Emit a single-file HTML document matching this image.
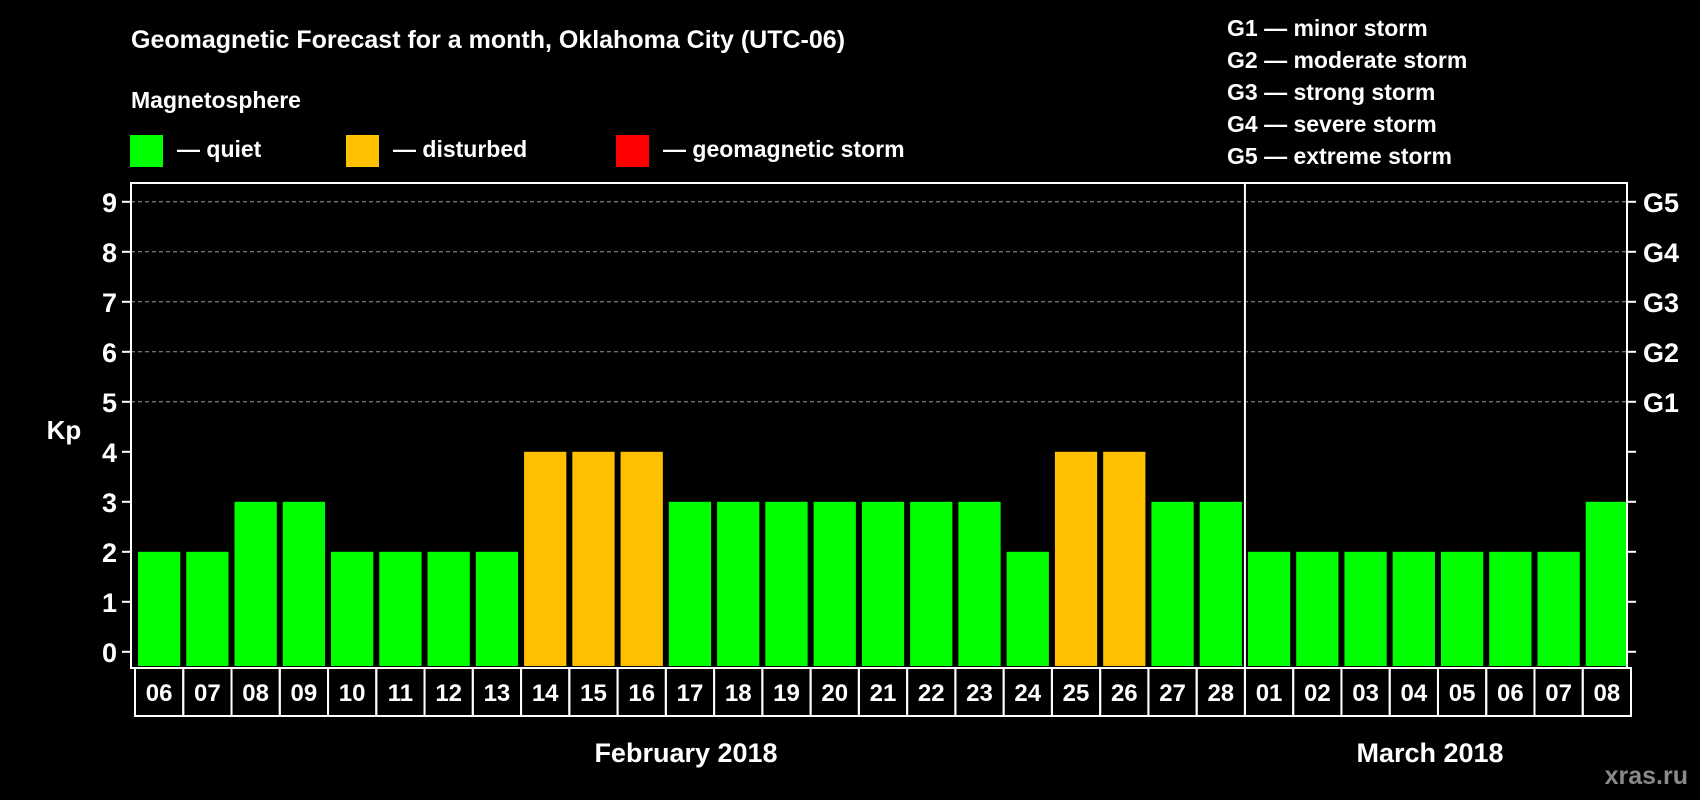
<!DOCTYPE html>
<html><head><meta charset="utf-8"><style>
html,body{margin:0;padding:0;background:#000;}
svg{display:block;font-family:"Liberation Sans",Arial,sans-serif;font-weight:bold;}
</style></head><body>
<svg id="chart" width="1700" height="800" viewBox="0 0 1700 800" xmlns="http://www.w3.org/2000/svg">
<rect x="0" y="0" width="1700" height="800" fill="#000"/>
<text x="131" y="48" fill="#fff" font-size="25">Geomagnetic Forecast for a month, Oklahoma City (UTC-06)</text>
<text x="131" y="108" fill="#fff" font-size="23">Magnetosphere</text>
<rect x="130" y="135" width="33" height="32" fill="#00ff00"/>
<text x="177" y="157" fill="#fff" font-size="23">— quiet</text>
<rect x="346" y="135" width="33" height="32" fill="#ffc000"/>
<text x="393" y="157" fill="#fff" font-size="23">— disturbed</text>
<rect x="616" y="135" width="33" height="32" fill="#ff0000"/>
<text x="663" y="157" fill="#fff" font-size="23">— geomagnetic storm</text>
<g font-size="23" fill="#fff">
<text x="1227" y="36">G1 — minor storm</text>
<text x="1227" y="68">G2 — moderate storm</text>
<text x="1227" y="100">G3 — strong storm</text>
<text x="1227" y="132">G4 — severe storm</text>
<text x="1227" y="164">G5 — extreme storm</text>
</g>
<g id="grid"></g>
<g id="bars"></g>
<g id="axes"></g>
<text x="64" y="439" fill="#fff" font-size="26" text-anchor="middle">Kp</text>
<text x="686" y="762" fill="#fff" font-size="27" text-anchor="middle">February 2018</text>
<text x="1430" y="762" fill="#fff" font-size="27" text-anchor="middle">March 2018</text>
<text x="1688" y="784" fill="#8a8a8a" font-size="25" text-anchor="end">xras.ru</text>
</svg>
<script>
const days = ["06","07","08","09","10","11","12","13","14","15","16","17","18","19","20","21","22","23","24","25","26","27","28","01","02","03","04","05","06","07","08"];
const kpValues = [2,2,3,3,2,2,2,2,4,4,4,3,3,3,3,3,3,3,2,4,4,3,3,2,2,2,2,2,2,2,3];
const yTicks = [0,1,2,3,4,5,6,7,8,9];
const gLabels = ["G1","G2","G3","G4","G5"];
const monthSplitIndex = 23;

const NS = "http://www.w3.org/2000/svg";
const plotL = 131, plotR = 1627, plotT = 183, plotB = 668;
const step = (plotR - plotL) / days.length;
function y(v){ return 651.8 - v * 50; }
function x(i){ return plotL + i * step; }
function mk(tag, attrs, parent){
  const e = document.createElementNS(NS, tag);
  for (const k in attrs) e.setAttribute(k, attrs[k]);
  parent.appendChild(e);
  return e;
}
const grid = document.getElementById("grid");
const bars = document.getElementById("bars");
const axes = document.getElementById("axes");

yTicks.forEach(function(t){
  if (t >= 5) {
    const gl = mk("line", {x1: plotL, x2: plotR, y1: y(t), y2: y(t), stroke: "#999", "stroke-width": 1, "stroke-dasharray": "4,3"}, grid);
    
    
  }
  const tk = mk("line", {x1: plotL - 9, x2: plotL, y1: y(t), y2: y(t), stroke: "#fff", "stroke-width": 2}, axes);
  
  
  const tr = mk("line", {x1: plotR, x2: plotR + 9, y1: y(t), y2: y(t), stroke: "#fff", "stroke-width": 2}, axes);
  
  
  const lb = mk("text", {x: 117, y: y(t) + 10, fill: "#fff", "font-size": 27, "text-anchor": "end"}, axes);
  lb.textContent = t;
  
  
});
gLabels.forEach(function(g, i){
  const lb = mk("text", {x: 1643, y: y(5 + i) + 10, fill: "#fff", "font-size": 27}, axes);
  lb.textContent = g;
  
  
});

kpValues.forEach(function(v, i){
  const color = v >= 5 ? "#ff0000" : (v >= 4 ? "#ffc000" : "#00ff00");
  const top = y(v);
  const b = mk("rect", {x: x(i) + 7, y: top, width: step - 6, height: plotB - 2 - top, fill: color}, bars);
  
  
  const cell = mk("rect", {x: x(i) + 4, y: plotB, width: step, height: 48, fill: "none", stroke: "#fff", "stroke-width": 2}, axes);
  
  
  const t = mk("text", {x: x(i) + 4 + step / 2, y: plotB + 33, fill: "#fff", "font-size": 24, "text-anchor": "middle"}, axes);
  t.textContent = days[i];
  
  
});

const frame = mk("rect", {x: plotL, y: plotT, width: plotR - plotL, height: plotB - plotT, fill: "none", stroke: "#fff", "stroke-width": 2}, axes);


const div = mk("line", {x1: x(monthSplitIndex) + 4, x2: x(monthSplitIndex) + 4, y1: plotT, y2: plotB, stroke: "#fff", "stroke-width": 2}, axes);


</script>
</body></html>
